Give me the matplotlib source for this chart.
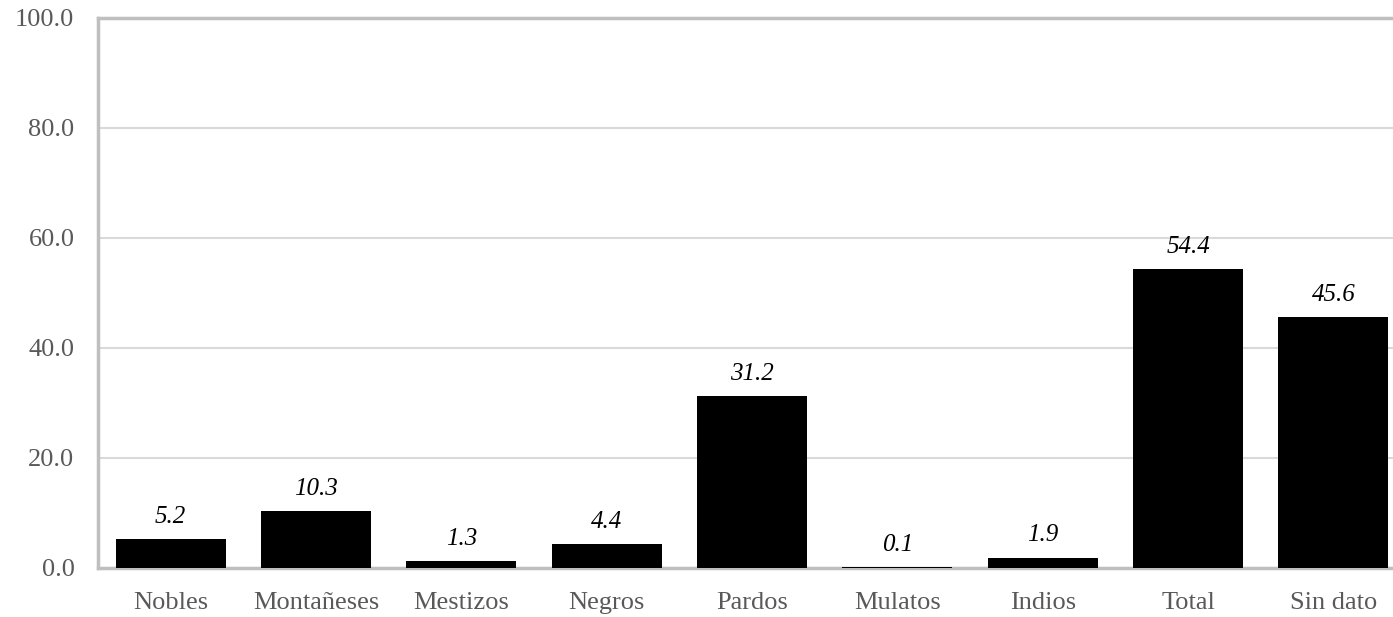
import matplotlib.pyplot as plt

# Porcentaje por calidad
categorias = ['Nobles', 'Montañeses', 'Mestizos', 'Negros', 'Pardos',
              'Mulatos', 'Indios', 'Total', 'Sin dato']
porcentajes = [5.2, 10.3, 1.3, 4.4, 31.2, 0.1, 1.9, 54.4, 45.6]
ticks_y = [0, 20, 40, 60, 80, 100]

plt.rcParams['font.family'] = ['Liberation Serif', 'DejaVu Serif']

fig = plt.figure(figsize=(13.93, 6.17), dpi=100)
ax = fig.add_axes([98 / 1393, 49 / 617, 1308 / 1393, 550 / 617])

x = range(len(categorias))
bars = ax.bar(x, porcentajes, width=0.757, color='black', zorder=3)

for xi, v in zip(x, porcentajes):
    ax.annotate(f'{v:.1f}', (xi, v), xytext=(0, 8), textcoords='offset points',
                ha='center', va='bottom', fontsize=18, style='italic', color='black')

ax.set_xlim(-0.5, len(categorias) - 0.5)
ax.set_ylim(0, 100)
ax.set_yticks(ticks_y)
ax.set_yticklabels([f'{t:.1f}' for t in ticks_y])
ax.set_xticks(list(x))
ax.set_xticklabels(categorias)
ax.tick_params(axis='both', length=0, labelsize=19, labelcolor='#595959')
ax.tick_params(axis='x', pad=17)
ax.tick_params(axis='y', pad=17)

ax.grid(axis='y', color='#d9d9d9', linewidth=1.5, zorder=0)
for side in ['left', 'top', 'bottom']:
    ax.spines[side].set_color('#bfbfbf')
    ax.spines[side].set_linewidth(2.5)
ax.spines['right'].set_visible(False)

fig.savefig('out.png', dpi=100)
